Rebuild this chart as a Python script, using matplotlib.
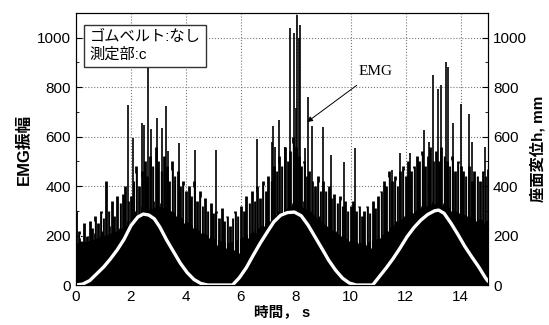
import numpy as np
import matplotlib
matplotlib.use("Agg")
import matplotlib.pyplot as plt

plt.rcParams['font.family'] = ['Liberation Sans', 'Noto Sans CJK JP']

# EMG: dense black level, max value in each 0.1 s bin
emg_t = np.round(np.arange(0, 15.01, 0.1), 2)
emg_peak = [300, 220, 180, 250, 200, 260, 230, 280, 250, 300, 270,
            420, 300, 340, 280, 360, 330, 370, 400, 340, 360,
            420, 480, 400, 460, 500, 440, 520, 480, 560, 500,
            460, 520, 480, 420, 500, 440, 460, 400, 420, 380,
            400, 360, 420, 340, 380, 320, 350, 300, 330, 290,
            300, 270, 310, 260, 280, 240, 270, 300, 280, 320,
            300, 360, 330, 380, 340, 400, 350, 420, 380, 440,
            420, 480, 460, 520, 480, 560, 500, 540, 600, 560,
            520, 480, 500, 440, 460, 420, 400, 440, 380, 420,
            380, 400, 350, 370, 330, 360, 320, 340, 300, 320,
            340, 300, 320, 280, 300, 320, 290, 340, 310, 360,
            380, 420, 400, 460, 420, 440, 400, 460, 480, 440,
            500, 460, 480, 520, 500, 540, 480, 520, 560, 500,
            540, 500, 560, 520, 500, 480, 520, 460, 500, 480,
            460, 440, 480, 420, 460, 440, 420, 460, 440, 470]

# solid floor of the EMG band (every 0.5 s)
floor_t = np.arange(0, 15.01, 0.5)
floor_h = [170, 180, 200, 220, 250, 300, 320, 300, 260, 220, 190, 170, 190, 220, 260, 300,
           330, 300, 250, 210, 180, 170, 190, 240, 280, 310, 330, 320, 290, 270, 260]

# white dips inside the band: time and lowest value
gap_t = [0.15, 0.35, 0.65, 0.95, 1.25, 1.55, 1.85, 2.15, 2.35, 2.85, 3.05, 3.45, 3.65, 3.95,
         4.25, 4.55, 4.85, 5.15, 5.45, 5.75, 5.95, 6.25, 6.55, 6.85, 7.05, 7.35, 7.55, 7.85,
         8.25, 8.55, 8.85, 9.15, 9.45, 9.65, 9.95, 10.25, 10.55, 10.75, 11.05, 11.35, 11.65,
         11.95, 12.25, 12.55, 12.95, 13.35, 13.65, 13.95, 14.25, 14.55, 14.85]
gap_lo = [190, 200, 210, 220, 240, 230, 260, 300, 320, 340, 330, 300, 280, 250,
          230, 210, 190, 160, 150, 140, 130, 190, 210, 240, 260, 300, 290, 330,
          340, 300, 280, 240, 220, 200, 180, 170, 160, 150, 190, 220, 260,
          280, 290, 320, 340, 330, 300, 290, 280, 260, 250]

# tall single spikes
spike_t = [1.9, 2.08, 2.4, 2.48, 2.62, 2.72, 2.95, 3.13, 3.27, 3.35, 3.75, 4.33, 5.1, 6.58,
           7.13, 7.17, 7.24, 7.39, 7.6, 7.79, 7.94, 8.0, 8.05, 8.12, 8.15, 8.32, 8.45, 8.6,
           9.0, 9.3, 9.76, 10.16, 11.5, 11.8, 12.16, 12.67, 12.85, 13.0, 13.18, 13.29, 13.47,
           13.54, 13.72, 14.02, 14.3, 14.4, 14.89]
spike_h = [727, 594, 655, 646, 1000, 630, 675, 635, 723, 540, 573, 545, 545, 590,
           578, 642, 557, 667, 557, 1038, 1018, 715, 1091, 1000, 1050, 553, 760, 642,
           638, 525, 497, 553, 465, 533, 533, 626, 578, 848, 792, 808, 901,
           881, 654, 731, 690, 580, 558]

# seat displacement h, mm
disp_t = [0, 0.25, 0.5, 0.75, 1.0, 1.25, 1.5, 1.75, 2.0, 2.25, 2.45, 2.65, 2.85, 3.05, 3.3,
          3.55, 3.8, 4.05, 4.3, 4.55, 4.8,
          5.7, 5.95, 6.2, 6.45, 6.7, 6.95, 7.2, 7.45, 7.7, 7.95, 8.2, 8.45, 8.7, 8.95, 9.2,
          9.45, 9.7, 9.95, 10.2,
          10.8, 11.05, 11.3, 11.55, 11.8, 12.05, 12.3, 12.55, 12.8, 13.05, 13.2, 13.4, 13.65,
          13.9, 14.15, 14.4, 14.65, 14.9, 15.0]
disp_h = [0, 4, 18, 45, 72, 105, 142, 185, 240, 275, 287, 283, 268, 235, 182,
          135, 88, 50, 22, 6, 0,
          0, 30, 70, 120, 168, 212, 255, 282, 293, 295, 280, 242, 195, 148, 100,
          60, 28, 8, 0,
          0, 35, 70, 108, 150, 195, 232, 262, 285, 300, 303, 290, 250,
          205, 157, 115, 75, 30, 15]

fig = plt.figure(figsize=(5.49, 3.25), dpi=100)
ax = fig.add_axes([0.1384, 0.123, 0.7506, 0.837])
ax2 = ax.twinx()

ax.fill_between(floor_t, 0, floor_h, color='black', lw=0, zorder=2)
ax.vlines(emg_t, 0, emg_peak, color='black', lw=2.0, zorder=2)
gap_top = np.interp(gap_t, emg_t, emg_peak)
ax.vlines(gap_t, gap_lo, gap_top + 5, color='white', lw=0.6, zorder=2.5)
ax.vlines(spike_t, 0, spike_h, color='black', lw=1.2, zorder=3)

ax2.plot(disp_t, disp_h, color='white', lw=2.4, solid_capstyle='round')

for a in (ax, ax2):
    a.set_xlim(0, 15)
    a.set_ylim(0, 1100)
    a.set_yticks(range(0, 1001, 200))
    a.set_yticks(range(0, 1101, 100), minor=True)
    a.tick_params(direction='in', labelsize=11, length=4)
    a.tick_params(which='minor', direction='in', length=2)
ax.set_xticks(range(0, 15, 2))
ax.grid(True, which='major', linestyle=':', color='#777777', lw=0.8, zorder=1)
ax.set_axisbelow(True)

ax.set_xlabel('時間， s', fontsize=10.5, fontweight='bold', labelpad=1)
ax.set_ylabel('EMG振幅', fontsize=12, fontweight='bold', labelpad=4)
ax2.set_ylabel('座面変位h, mm', fontsize=11, fontweight='bold', labelpad=2)

ax.text(0.5, 1030, 'ゴムベルト:なし\n測定部:c', fontsize=11, va='top', ha='left',
        linespacing=1.25, zorder=5,
        bbox=dict(boxstyle='square,pad=0.35', fc='white', ec='#333333', lw=1))

ax.annotate('EMG', xy=(8.41, 659), xytext=(10.92, 865), fontsize=11,
            family='Liberation Serif', ha='center', va='center',
            arrowprops=dict(arrowstyle='-|>', color='black', lw=0.7,
                            shrinkA=6, shrinkB=0, mutation_scale=8))

fig.savefig('out.png', dpi=100)
